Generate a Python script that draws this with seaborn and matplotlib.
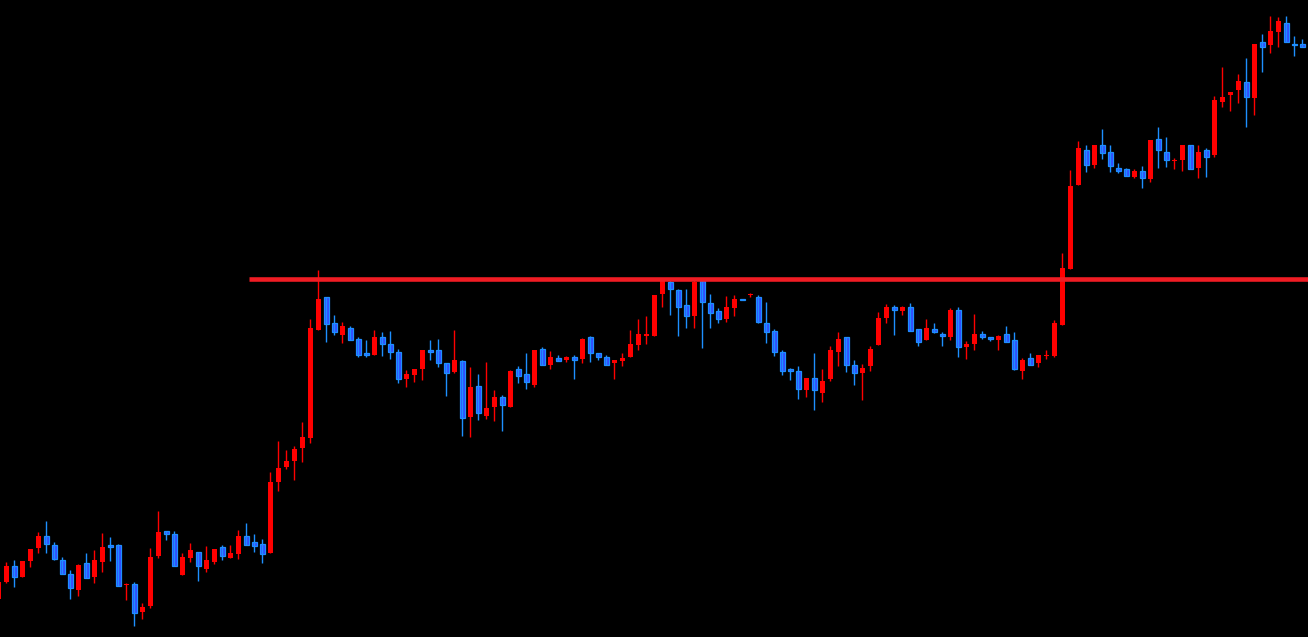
import matplotlib
matplotlib.use("Agg")
import matplotlib.pyplot as plt
import seaborn as sns
import numpy as np
import pandas as pd

# price data, one entry per candle
opens = [38, 55, 71, 60, 76, 89, 101, 92, 77, 63,
         47, 74, 60, 75, 92, 92, 52, 53, 25, 31,
         81, 106, 103, 62, 79, 85, 68, 75, 90, 79,
         83, 101, 95, 93, 84, 155, 170, 176, 189, 199,
         307, 340, 314, 302, 309, 298, 284, 282, 300, 293,
         285, 258, 262, 268, 287, 287, 274, 265, 276, 220,
         251, 221, 230, 240, 230, 268, 263, 252, 288, 272,
         279, 277, 280, 278, 300, 284, 280, 274, 276, 280,
         292, 301, 301, 343, 355, 347, 332, 321, 356, 334,
         326, 318, 329, 338, 342, 340, 314, 306, 285, 268,
         266, 247, 259, 244, 258, 285, 300, 272, 264, 271,
         292, 319, 330, 326, 330, 308, 297, 308, 303, 300,
         327, 290, 293, 303, 300, 297, 303, 297, 266, 279,
         274, 281, 281, 312, 368, 452, 487, 472, 492, 485,
         469, 468, 460, 466, 458, 498, 485, 476, 477, 492,
         469, 487, 482, 535, 542, 547, 555, 539, 595, 592,
         605, 614, 593, 593]
highs = [57, 75, 77, 76, 88, 105, 116, 95, 80, 67,
         73, 84, 87, 104, 100, 93, 54, 55, 34, 89,
         126, 106, 106, 84, 94, 85, 91, 88, 92, 92,
         107, 114, 103, 98, 165, 196, 187, 191, 215, 318,
         367, 340, 322, 315, 311, 300, 297, 307, 305, 306,
         288, 267, 268, 287, 297, 298, 274, 307, 277, 270,
         263, 275, 247, 242, 267, 271, 284, 287, 290, 286,
         282, 281, 282, 299, 301, 284, 282, 277, 284, 307,
         318, 321, 342, 359, 357, 348, 348, 357, 359, 343,
         329, 341, 342, 338, 344, 342, 335, 308, 287, 269,
         271, 259, 284, 268, 291, 305, 300, 277, 273, 291,
         325, 333, 332, 331, 334, 308, 318, 314, 305, 329,
         330, 296, 323, 306, 300, 302, 311, 305, 279, 284,
         282, 287, 317, 384, 467, 496, 492, 492, 508, 492,
         474, 469, 468, 471, 497, 510, 500, 479, 492, 492,
         492, 489, 541, 570, 545, 563, 579, 593, 603, 621,
         620, 621, 601, 598]
lows = [36, 54, 50, 60, 70, 84, 84, 77, 63, 38,
        41, 59, 54, 65, 76, 51, 37, 11, 18, 29,
        79, 97, 71, 62, 75, 56, 65, 73, 77, 79,
        78, 92, 85, 74, 84, 146, 168, 157, 175, 194,
        307, 295, 302, 294, 297, 280, 280, 282, 281, 278,
        254, 250, 255, 257, 277, 270, 241, 264, 201, 200,
        217, 218, 216, 206, 230, 254, 248, 250, 272, 268,
        276, 275, 258, 274, 275, 277, 272, 258, 271, 280,
        287, 293, 301, 330, 322, 301, 309, 309, 289, 309,
        314, 315, 321, 337, 340, 314, 294, 281, 262, 257,
        238, 240, 227, 235, 256, 271, 265, 252, 237, 266,
        292, 314, 302, 322, 306, 291, 297, 304, 291, 297,
        280, 278, 287, 298, 296, 287, 295, 267, 258, 272,
        270, 278, 280, 312, 368, 452, 465, 469, 478, 465,
        464, 461, 459, 449, 455, 469, 470, 468, 466, 468,
        459, 460, 480, 530, 526, 534, 510, 522, 565, 584,
        590, 595, 581, 590]
closes = [55, 71, 60, 76, 88, 101, 93, 78, 63, 49,
          72, 59, 77, 90, 90, 51, 53, 24, 30, 80,
          105, 103, 71, 80, 87, 71, 77, 88, 81, 84,
          101, 92, 91, 83, 155, 169, 176, 188, 200, 309,
          338, 313, 305, 311, 297, 282, 282, 300, 293, 285,
          258, 263, 268, 287, 285, 274, 264, 277, 219, 250,
          224, 229, 240, 232, 266, 261, 255, 287, 272, 280,
          276, 280, 277, 298, 284, 280, 272, 277, 279, 293,
          303, 303, 342, 357, 348, 330, 321, 355, 335, 324,
          318, 330, 338, 337, 343, 315, 305, 285, 266, 266,
          248, 259, 247, 256, 287, 298, 272, 264, 269, 288,
          319, 330, 327, 330, 306, 295, 309, 305, 301, 327,
          290, 293, 303, 300, 298, 301, 295, 268, 277, 272,
          282, 282, 314, 369, 451, 489, 472, 492, 484, 471,
          466, 461, 466, 459, 497, 487, 477, 477, 492, 468,
          485, 480, 537, 540, 545, 556, 540, 593, 590, 606,
          616, 595, 592, 590]

level = 358.5      # horizontal resistance line
level_start = 31.3  # bar index where the line begins

UP = "#ff0000"
DOWN_FILL = "#3348ff"
DOWN_EDGE = "#1e8fff"
LEVEL_COLOR = "#f01c24"

sns.set_theme(style="dark", rc={"axes.facecolor": "black", "figure.facecolor": "black"})

df = pd.DataFrame({"open": opens, "high": highs, "low": lows, "close": closes})
df["bar"] = np.arange(len(df))
df["bottom"] = df[["open", "close"]].min(axis=1)
df["body"] = (df["close"] - df["open"]).abs().clip(lower=1)
up = df[df["close"] >= df["open"]]
down = df[df["close"] < df["open"]]

fig = plt.figure(figsize=(13.08, 6.37), dpi=100)
ax = fig.add_axes([0, 0, 1, 1])
ax.set_facecolor("black")

# wicks
ax.vlines(up["bar"], up["low"], up["high"], color=UP, linewidth=1.0)
ax.vlines(down["bar"], down["low"], down["high"], color=DOWN_EDGE, linewidth=1.0)

# bodies
ax.bar(up["bar"], up["body"], bottom=up["bottom"], width=0.64, color=UP, linewidth=0)
ax.bar(down["bar"], down["body"], bottom=down["bottom"], width=0.56,
       color=DOWN_FILL, edgecolor=DOWN_EDGE, linewidth=0.9)

ax.hlines(level, level_start, len(df) + 1, color=LEVEL_COLOR, linewidth=3.3)

ax.set_xlim(0.2125, 163.7125)
ax.set_ylim(0, 637)
ax.set_axis_off()

fig.savefig("out.png", dpi=100, facecolor="black")
